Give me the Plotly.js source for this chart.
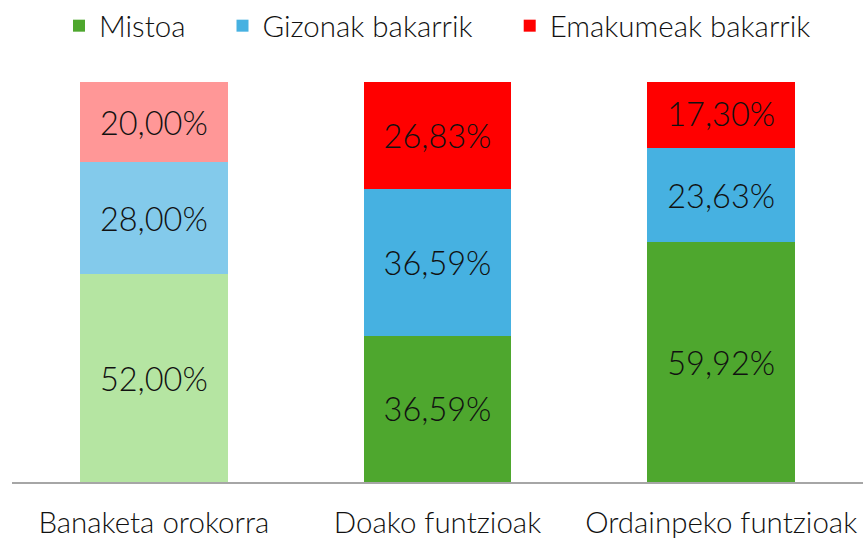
<!DOCTYPE html>
<html>
<head>
<meta charset="utf-8">
<script src="https://cdn.plot.ly/plotly-3.0.1.min.js"></script>
<style>html,body{margin:0;padding:0;background:#fff;}#chart{width:863px;height:539px;}</style>
</head>
<body>
<div id="chart"></div>
<script>
var categories = ["Banaketa orokorra", "Doako funtzioak", "Ordainpeko funtzioak"];
var seriesNames = ["Mistoa", "Gizonak bakarrik", "Emakumeak bakarrik"];
var mistoa = [52.00, 36.59, 59.92];
var gizonak = [28.00, 36.59, 23.63];
var emakumeak = [20.00, 26.83, 17.30];
var seriesColors = ["#4EA72E", "#46B1E1", "#FF0000"];
var firstBarColors = ["#B5E5A2", "#83CAEB", "#FF9797"];

function fmt(v) { return v.toFixed(2).replace('.', ',') + '%'; }

var fontFam = 'Lato, "Open Sans", sans-serif';
var allValues = [mistoa, gizonak, emakumeak];
var pad = '\u00a0\u00a0\u00a0\u00a0';
var traces = [];
allValues.forEach(function (vals, i) {
  // first category drawn in lighter shade (no legend entry)
  traces.push({
    type: 'bar',
    name: seriesNames[i],
    legendgroup: 's' + i,
    showlegend: false,
    x: categories.slice(0, 1),
    y: vals.slice(0, 1),
    text: vals.slice(0, 1).map(fmt),
    textposition: 'inside',
    insidetextanchor: 'middle',
    textangle: 0,
    textfont: {family: fontFam, size: 32.5, color: '#111111', weight: 300},
    marker: {color: firstBarColors[i], line: {width: 0}},
    hoverinfo: 'none'
  });
  traces.push({
    type: 'bar',
    name: seriesNames[i] + (i < 2 ? pad : ''),
    legendgroup: 's' + i,
    showlegend: true,
    x: categories.slice(1),
    y: vals.slice(1),
    text: vals.slice(1).map(fmt),
    textposition: 'inside',
    insidetextanchor: 'middle',
    textangle: 0,
    textfont: {family: fontFam, size: 32.5, color: '#111111', weight: 300},
    marker: {color: seriesColors[i], line: {width: 0}},
    hoverinfo: 'none'
  });
});

var layout = {
  width: 863, height: 539,
  barmode: 'stack',
  bargap: 0.48,
  margin: {l: 12, r: 0, t: 82, b: 57},
  paper_bgcolor: '#ffffff',
  plot_bgcolor: '#ffffff',
  font: {family: fontFam, color: '#111111', size: 29, weight: 300},
  showlegend: true,
  legend: {
    orientation: 'h', x: 0.5, xanchor: 'center', y: 1.0, yref: 'container', yanchor: 'top',
    font: {size: 29.5, color: '#111111', weight: 300},
    itemwidth: 30, traceorder: 'normal'
  },
  xaxis: {
    showline: true, linecolor: '#A6A6A6', linewidth: 2,
    ticks: '', showgrid: false, zeroline: false,
    tickfont: {size: 29.5, color: '#111111', weight: 300},
    ticklabelstandoff: 14
  },
  yaxis: {
    range: [0, 100], visible: false, showgrid: false, zeroline: false, fixedrange: true
  }
};

Plotly.newPlot('chart', traces, layout, {displayModeBar: false, staticPlot: true});
</script>
</body>
</html>
